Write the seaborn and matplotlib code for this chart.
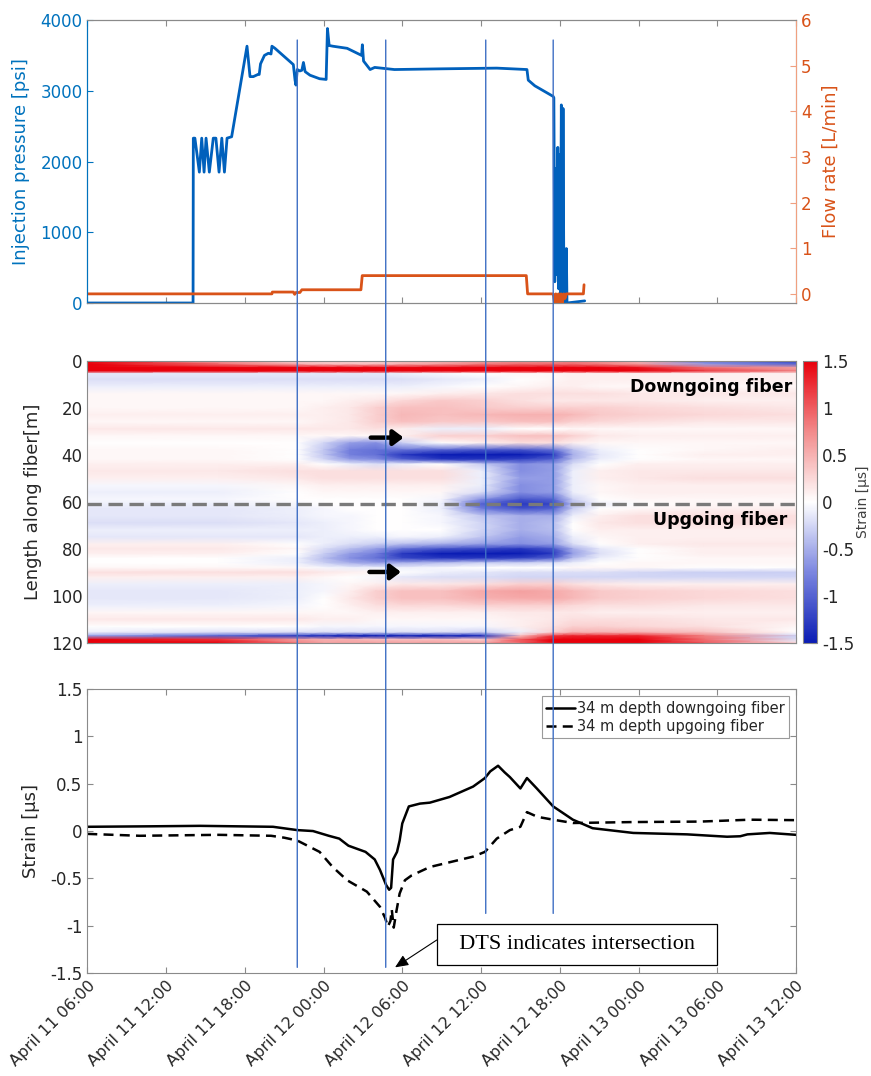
import numpy as np
import pandas as pd
import matplotlib
matplotlib.use("Agg")
import matplotlib.pyplot as plt
import seaborn as sns
from matplotlib.colors import LinearSegmentedColormap
from matplotlib.patches import ConnectionPatch

# time axis: hours after April 11 06:00
tick_hours = [0, 6, 12, 18, 24, 30, 36, 42, 48, 54]
tick_labels = ["April 11 06:00", "April 11 12:00", "April 11 18:00",
               "April 12 00:00", "April 12 06:00", "April 12 12:00",
               "April 12 18:00", "April 13 00:00", "April 13 06:00",
               "April 13 12:00"]

# injection pressure [psi]
press_t = [0, 8.06, 8.08, 8.2, 8.54, 8.72, 8.9, 9.05, 9.3, 9.6, 9.8, 10.04,
           10.25, 10.45, 10.65, 11.0, 12.17, 12.4, 12.65, 13.0, 13.1, 13.2,
           13.5, 13.8, 14.0, 14.07, 14.3, 15.7, 15.83, 15.9, 16.0, 16.2,
           16.35, 16.47, 16.6, 16.97, 17.7, 18.2, 18.3, 18.43, 18.7, 19.8,
           20.9, 20.96, 21.05, 21.55, 21.9, 23.4, 27.0, 31.2, 33.5, 33.6,
           34.1, 35.5, 35.55, 35.62, 35.7, 35.78, 35.85, 35.92, 35.98,
           36.05, 36.12, 36.2, 36.25, 36.32, 36.45, 36.5, 36.55, 37.9]
press_v = [0, 0, 2330, 2330, 1850, 2330, 1850, 2330, 1850, 2330, 2330, 1850,
           2330, 1850, 2330, 2350, 3630, 3200, 3200, 3230, 3230, 3380,
           3500, 3530, 3520, 3630, 3600, 3370, 3150, 3080, 3300, 3280,
           3290, 3400, 3270, 3220, 3170, 3160, 3880, 3640, 3630, 3600,
           3500, 3650, 3420, 3300, 3330, 3300, 3310, 3320, 3300, 3150,
           3070, 2920, 2900, 300, 1900, 400, 2200, 200, 2100,
           100, 2800, 0, 2750, 0, 0, 770, 0, 30]

# flow rate [L/min]
flow_t = [0, 14.07, 14.1, 15.7, 15.8, 15.9, 16.2, 16.35, 20.85, 20.95, 33.45,
          33.55, 35.5, 35.6, 35.7, 35.8, 35.9, 36.0, 36.1, 36.2, 36.3, 36.4,
          36.5, 37.8, 37.85]
flow_v = [0, 0, 0.04, 0.04, -0.01, 0.03, 0.03, 0.09, 0.09, 0.40, 0.40,
          0.0, 0.0, -0.2, 0.0, -0.2, 0.0, -0.2, 0.0, -0.2, 0.0, -0.1,
          0.0, 0.0, 0.2]

# strain at 34 m depth
down_t = [0, 4.78, 8.6, 14.15, 16.0, 17.2, 18.4, 19.2, 19.9, 21.2, 21.9, 22.3,
          22.77, 23.0, 23.15, 23.3, 23.6, 23.8, 24.0, 24.5, 25.35, 26.1, 27.6,
          29.4, 30.3, 30.7, 31.3, 31.8, 32.2, 33.0, 33.5, 34.25, 35.5, 37.0,
          38.5, 41.6, 45.7, 48.75, 49.75, 50.3, 52.0, 54]
down_v = [0.045, 0.05, 0.055, 0.045, 0.01, 0.0, -0.05, -0.08, -0.155, -0.22,
          -0.30, -0.41, -0.57, -0.62, -0.60, -0.30, -0.22, -0.10, 0.08, 0.26,
          0.29, 0.30, 0.36, 0.47, 0.56, 0.63, 0.69, 0.62, 0.57, 0.45, 0.56,
          0.45, 0.26, 0.12, 0.03, -0.02, -0.035, -0.06, -0.055, -0.035,
          -0.02, -0.04]
up_t = [0, 4, 10, 14, 15, 16.0, 17.7, 18.7, 19.8, 21.3, 22.3, 22.7, 22.9, 23.1,
        23.2, 23.35, 23.55, 23.8, 24.2, 24.7, 26.1, 27.9, 29.4, 30.3, 31.2,
        32.2, 33.0, 33.5, 34.3, 35.5, 37.0, 41.6, 46.7, 50.5, 54]
up_v = [-0.03, -0.05, -0.04, -0.05, -0.07, -0.10, -0.22, -0.38, -0.52, -0.64,
        -0.80, -0.92, -1.01, -0.95, -0.83, -1.02, -0.85, -0.66, -0.52, -0.47,
        -0.38, -0.32, -0.27, -0.22, -0.08, 0.01, 0.045, 0.20, 0.15, 0.12,
        0.085, 0.095, 0.10, 0.12, 0.115]

# DSS strain map (depth nodes x time nodes)
time_nodes = [0, 10, 16, 18, 20, 22, 24, 27, 30, 33, 35.5, 37, 39, 42, 47, 54]
depth_nodes = [0, 1.5, 3, 4.5, 5.5, 8, 11, 14, 17, 20, 23, 26, 29, 32, 35, 38,
               40, 42, 44, 47, 50, 53, 56, 59, 61, 63, 66, 69, 72, 75, 78, 80,
               82, 84, 86, 88, 90, 92, 95, 98, 101, 104, 107, 110, 113, 115.5,
               117, 118.5, 120]
strain_map = [
    [1.5, 0.6, 0.3, 0.3, 0.3, 0.3, 0.4, 0.5, 0.6, 0.7, 0.7, 0.8, 0.7, 0.5, -0.9, -1.2],
    [1.5, 0.9, 0.5, 0.4, 0.4, 0.4, 0.5, 0.6, 0.8, 0.9, 0.9, 0.9, 0.8, 0.6, -0.6, -1.0],
    [1.5, 1.5, 1.5, 1.5, 1.5, 1.5, 1.5, 1.5, 1.5, 1.5, 1.5, 1.5, 1.5, 1.4, 0.9, 0.6],
    [1.5, 1.5, 1.5, 1.5, 1.5, 1.5, 1.5, 1.5, 1.5, 1.5, 1.5, 1.5, 1.5, 1.5, 1.2, 0.8],
    [-0.15, -0.15, -0.15, -0.15, -0.15, -0.15, -0.1, -0.05, 0.0, 0.05, 0.05, 0.1, 0.1, 0.1, 0.1, 0.1],
    [-0.2, -0.2, -0.2, -0.2, -0.2, -0.2, -0.2, -0.15, -0.1, 0.0, 0.05, 0.1, 0.1, 0.1, 0.1, 0.1],
    [-0.1, -0.1, -0.1, -0.1, -0.1, -0.1, -0.1, -0.05, 0.0, 0.05, 0.1, 0.1, 0.05, 0.05, 0.05, 0.05],
    [0.05, 0.05, 0.05, 0.05, 0.05, 0.05, 0.05, 0.1, 0.15, 0.2, 0.2, 0.2, 0.2, 0.15, 0.15, 0.15],
    [0.05, 0.05, 0.05, 0.05, 0.1, 0.15, 0.25, 0.35, 0.3, 0.2, 0.15, 0.15, 0.15, 0.15, 0.1, 0.1],
    [0.05, 0.05, 0.05, 0.1, 0.15, 0.3, 0.4, 0.4, 0.35, 0.3, 0.3, 0.3, 0.3, 0.25, 0.2, 0.15],
    [0.1, 0.1, 0.1, 0.1, 0.15, 0.3, 0.45, 0.4, 0.45, 0.5, 0.5, 0.45, 0.35, 0.3, 0.25, 0.2],
    [0.05, 0.05, 0.05, 0.1, 0.15, 0.3, 0.4, 0.35, 0.35, 0.4, 0.4, 0.3, 0.25, 0.2, 0.15, 0.15],
    [0.15, 0.15, 0.15, 0.15, 0.15, 0.2, 0.1, -0.1, -0.1, 0.0, 0.0, 0.05, 0.05, 0.05, 0.05, 0.05],
    [0.05, 0.05, 0.05, 0.05, 0.05, 0.05, 0.1, 0.3, 0.3, 0.4, 0.4, 0.3, 0.15, 0.1, 0.1, 0.1],
    [0.0, 0.0, 0.0, -0.25, -0.6, -0.7, -0.3, 0.0, 0.1, 0.2, 0.2, 0.1, 0.05, 0.05, 0.05, 0.05],
    [0.05, 0.05, 0.0, -0.35, -0.8, -0.9, -0.9, -1.0, -1.1, -1.1, -0.9, -0.4, -0.1, 0.0, 0.05, 0.1],
    [0.05, 0.05, 0.0, -0.35, -0.8, -0.9, -1.3, -1.5, -1.5, -1.5, -1.3, -0.5, -0.15, 0.0, 0.1, 0.1],
    [0.05, 0.05, 0.0, -0.25, -0.6, -0.7, -1.0, -1.3, -1.3, -1.2, -1.0, -0.4, -0.1, 0.0, 0.05, 0.05],
    [0.1, 0.1, 0.1, 0.0, -0.1, -0.2, -0.1, 0.0, -0.3, -0.7, -0.6, -0.2, 0.0, 0.1, 0.1, 0.1],
    [0.15, 0.15, 0.2, 0.2, 0.2, 0.2, 0.2, 0.2, -0.1, -0.7, -0.6, -0.1, 0.1, 0.15, 0.15, 0.15],
    [0.1, 0.1, 0.15, 0.2, 0.2, 0.2, 0.2, 0.2, -0.1, -0.6, -0.6, -0.1, 0.1, 0.15, 0.2, 0.2],
    [-0.05, -0.05, 0.05, 0.1, 0.1, 0.1, 0.1, 0.1, -0.1, -0.7, -0.6, -0.1, 0.05, 0.1, 0.1, 0.1],
    [-0.1, -0.1, 0.0, 0.05, 0.05, 0.05, 0.05, 0.05, -0.2, -0.7, -0.6, -0.1, 0.05, 0.1, 0.1, 0.1],
    [-0.05, -0.05, 0.0, 0.0, 0.0, 0.0, 0.0, -0.05, -0.7, -1.1, -1.0, -0.3, 0.0, 0.05, 0.05, 0.05],
    [-0.1, -0.1, -0.05, 0.0, 0.0, 0.0, 0.0, -0.1, -1.0, -1.3, -1.2, -0.4, -0.1, 0.0, 0.05, 0.05],
    [-0.15, -0.15, -0.1, -0.05, 0.0, 0.0, 0.0, -0.1, -0.8, -1.1, -1.0, -0.3, 0.0, 0.05, 0.1, 0.1],
    [-0.15, -0.15, -0.1, -0.05, -0.05, 0.0, 0.0, -0.05, -0.35, -0.5, -0.5, -0.1, 0.1, 0.2, 0.2, 0.2],
    [-0.2, -0.2, -0.15, -0.1, -0.05, 0.0, 0.0, -0.05, -0.25, -0.5, -0.4, 0.0, 0.15, 0.2, 0.2, 0.2],
    [-0.1, -0.1, -0.1, -0.1, -0.05, 0.0, 0.0, 0.0, -0.25, -0.5, -0.4, 0.0, 0.1, 0.1, 0.1, 0.1],
    [-0.15, -0.15, -0.15, -0.1, -0.1, -0.1, -0.05, -0.1, -0.35, -0.6, -0.5, -0.1, 0.05, 0.1, 0.1, 0.1],
    [0.1, 0.1, 0.0, -0.1, -0.2, -0.3, -0.4, -0.5, -0.6, -0.7, -0.6, -0.2, 0.0, 0.1, 0.15, 0.15],
    [0.15, 0.15, 0.05, -0.2, -0.4, -0.6, -0.9, -1.1, -1.2, -1.3, -1.1, -0.5, -0.15, 0.0, 0.1, 0.1],
    [0.1, 0.1, 0.0, -0.3, -0.6, -0.8, -1.3, -1.5, -1.5, -1.5, -1.3, -0.6, -0.2, 0.0, 0.1, 0.1],
    [0.0, 0.0, -0.1, -0.4, -0.7, -0.9, -1.2, -1.3, -1.3, -1.2, -1.0, -0.4, -0.1, 0.0, 0.05, 0.05],
    [0.0, 0.0, -0.1, -0.3, -0.5, -0.6, -0.5, -0.4, -0.3, -0.3, -0.2, -0.1, 0.0, 0.05, 0.05, 0.05],
    [0.05, 0.05, 0.05, -0.05, -0.1, -0.1, -0.1, -0.05, 0.0, 0.0, 0.0, 0.05, 0.05, 0.05, 0.0, 0.0],
    [0.2, 0.2, 0.2, 0.15, 0.1, 0.05, 0.0, -0.1, -0.15, -0.2, -0.2, -0.2, -0.2, -0.25, -0.3, -0.3],
    [0.1, 0.1, 0.1, 0.05, 0.0, -0.05, -0.15, -0.2, -0.2, -0.25, -0.25, -0.25, -0.25, -0.25, -0.25, -0.25],
    [-0.1, -0.1, -0.1, -0.05, 0.05, 0.1, 0.15, 0.15, 0.2, 0.3, 0.3, 0.2, 0.15, 0.1, 0.1, 0.1],
    [-0.15, -0.15, -0.1, -0.05, 0.1, 0.3, 0.4, 0.4, 0.55, 0.6, 0.55, 0.45, 0.35, 0.3, 0.25, 0.2],
    [-0.15, -0.15, -0.1, 0.0, 0.15, 0.3, 0.4, 0.4, 0.5, 0.55, 0.55, 0.45, 0.35, 0.3, 0.25, 0.2],
    [-0.1, -0.1, -0.05, 0.0, 0.1, 0.2, 0.25, 0.25, 0.3, 0.3, 0.3, 0.25, 0.2, 0.2, 0.15, 0.15],
    [0.05, 0.05, 0.05, 0.05, 0.05, 0.1, 0.1, 0.1, 0.1, 0.15, 0.15, 0.15, 0.1, 0.1, 0.1, 0.1],
    [0.15, 0.15, 0.15, 0.1, 0.1, 0.05, 0.05, 0.05, 0.05, 0.1, 0.15, 0.2, 0.2, 0.2, 0.15, 0.15],
    [0.0, 0.0, 0.0, -0.05, -0.05, -0.05, -0.05, -0.05, -0.05, 0.1, 0.2, 0.3, 0.3, 0.25, 0.2, 0.05],
    [-0.1, -0.2, -0.2, -0.2, -0.2, -0.2, -0.2, -0.2, -0.3, -0.1, 0.3, 0.5, 0.5, 0.5, 0.4, 0.0],
    [-0.6, -1.0, -1.3, -1.4, -1.5, -1.5, -1.5, -1.5, -1.4, 0.4, 1.2, 1.3, 1.3, 1.3, 0.8, -0.3],
    [1.5, 1.2, 0.6, 0.5, 0.5, 0.4, 0.4, 0.4, 0.3, 1.0, 1.5, 1.5, 1.5, 1.5, 0.9, -0.2],
    [1.5, 1.5, 0.8, 0.6, 0.6, 0.6, 0.6, 0.6, 0.6, 1.0, 1.5, 1.5, 1.5, 1.5, 1.0, 0.2],
]

# event markers (vertical lines) and their lower ends on the strain axis
marker_hours = [16.0, 22.74, 30.36, 35.5]
marker_bottom = [-1.44, -1.44, -0.87, -0.87]

press_ticks = [0, 1000, 2000, 3000, 4000]
flow_ticks = [0, 1, 2, 3, 4, 5, 6]
depth_ticks = [0, 20, 40, 60, 80, 100, 120]
strain_ticks = [-1.5, -1, -0.5, 0, 0.5, 1, 1.5]
strain_labels = ["-1.5", "-1", "-0.5", "0", "0.5", "1", "1.5"]

BLUE = "#0072BD"
ORANGE = "#D95319"
GREY = "#8a8a8a"
TXT = "#262626"

sns.set_style("ticks")
plt.rcParams["font.family"] = ["DejaVu Sans"]
plt.rcParams["axes.edgecolor"] = GREY
plt.rcParams["axes.linewidth"] = 0.8

fig = plt.figure(figsize=(8.71, 10.76), dpi=100)
ax1 = fig.add_axes([0.1002, 0.7184, 0.8137, 0.2630])
ax2 = fig.add_axes([0.1002, 0.4024, 0.8137, 0.2624])
cax = fig.add_axes([0.9219, 0.4024, 0.0161, 0.2624])
ax3 = fig.add_axes([0.1002, 0.0957, 0.8137, 0.2639])


def style_axis(ax):
    ax.set_xlim(0, 54)
    ax.set_xticks(tick_hours)
    ax.tick_params(axis="both", direction="in", length=4, width=0.8,
                   color=GREY, labelsize=12, labelcolor=TXT,
                   top=True, right=True)


# ---- top: pressure and flow rate
press_df = pd.DataFrame({"hours": press_t, "psi": press_v})
flow_df = pd.DataFrame({"hours": flow_t, "lpm": flow_v})
sns.lineplot(data=press_df, x="hours", y="psi", ax=ax1, color="#0060BC",
             lw=2.0, estimator=None, sort=False)
style_axis(ax1)
ax1.tick_params(axis="y", right=False, colors=BLUE, labelcolor=BLUE)
ax1.set_ylim(0, 4000)
ax1.set_yticks(press_ticks)
ax1.set_xticklabels([])
ax1.set_xlabel("")
ax1.set_ylabel("Injection pressure [psi]", color=BLUE, fontsize=13)
ax1.yaxis.set_label_coords(-0.081, 0.5)
ax1.spines["left"].set_color(BLUE)

ax1r = ax1.twinx()
sns.lineplot(data=flow_df, x="hours", y="lpm", ax=ax1r, color=ORANGE,
             lw=2.0, estimator=None, sort=False)
ax1r.set_ylim(-0.2, 6)
ax1r.set_yticks(flow_ticks)
ax1r.tick_params(axis="y", direction="in", length=4, width=0.8,
                 colors="#f0a080", labelcolor=ORANGE, labelsize=12)
ax1r.spines["right"].set_color("#f0a080")
ax1r.spines["left"].set_color(BLUE)
ax1r.set_ylabel("Flow rate [L/min]", color=ORANGE, fontsize=13)
ax1r.yaxis.set_label_coords(1.036, 0.5)

# ---- middle: strain map
cmap = LinearSegmentedColormap.from_list(
    "strain", ["#0a1cb4", "#7b86e0", "#ffffff", "#f28a8a", "#e8000b"])
mesh = ax2.pcolormesh(time_nodes, depth_nodes, np.array(strain_map),
                      shading="gouraud", cmap=cmap, vmin=-1.5, vmax=1.5,
                      rasterized=True)
style_axis(ax2)
ax2.set_ylim(120, 0)
ax2.set_yticks(depth_ticks)
ax2.set_xticklabels([])
ax2.set_ylabel("Length along fiber[m]", color=TXT, fontsize=13)
ax2.yaxis.set_label_coords(-0.064, 0.5)
ax2.axhline(61, color="#7a7a7a", lw=2.4, dashes=(4.3, 2.0))
ax2.text(53.7, 11, "Downgoing fiber", ha="right", va="center",
         fontsize=12.5, fontweight="bold", color="black")
ax2.text(53.3, 67.8, "Upgoing fiber", ha="right", va="center",
         fontsize=12.5, fontweight="bold", color="black")
for y0, x0, x1 in [(32.7, 21.6, 24.1), (89.8, 21.5, 23.9)]:
    ax2.annotate("", xy=(x1, y0), xytext=(x0, y0),
                 arrowprops=dict(arrowstyle="-|>,head_length=0.6,head_width=0.45",
                                 lw=3.2, color="black", shrinkA=0, shrinkB=0))

cb = fig.colorbar(mesh, cax=cax, ticks=strain_ticks)
cb.ax.set_yticklabels(strain_labels)
cb.ax.tick_params(direction="in", length=4, width=0.8, color=GREY,
                  labelsize=12, labelcolor=TXT)
cb.outline.set_edgecolor(GREY)
cb.outline.set_linewidth(0.8)
cb.set_label("Strain [μs]", fontsize=10, color="#404040")
cb.ax.yaxis.set_label_coords(3.8, 0.5)

# ---- bottom: strain at 34 m
down_df = pd.DataFrame({"hours": down_t, "strain": down_v})
up_df = pd.DataFrame({"hours": up_t, "strain": up_v})
sns.lineplot(data=down_df, x="hours", y="strain", ax=ax3, color="black",
             lw=1.8, estimator=None, sort=False,
             label="34 m depth downgoing fiber")
sns.lineplot(data=up_df, x="hours", y="strain", ax=ax3, color="black",
             lw=1.8, estimator=None, sort=False,
             label="34 m depth upgoing fiber")
ax3.lines[-1].set_dashes([4, 2.5])
style_axis(ax3)
ax3.set_ylim(-1.5, 1.5)
ax3.set_yticks(strain_ticks)
ax3.set_yticklabels(strain_labels)
ax3.set_xticklabels(tick_labels, rotation=45, ha="right",
                    rotation_mode="anchor", fontsize=11.5)
ax3.set_xlabel("")
ax3.set_ylabel("Strain [μs]", color=TXT, fontsize=13)
ax3.yaxis.set_label_coords(-0.067, 0.5)
leg = ax3.legend(loc="upper right", fontsize=10.5, frameon=True, fancybox=False,
                 edgecolor="#9a9a9a", framealpha=1, handlelength=2.0,
                 handletextpad=0.1, borderpad=0.3, labelspacing=0.2,
                 borderaxespad=0.5)
leg.get_frame().set_linewidth(0.8)

ax3.text(37.3, -1.20, "  DTS indicates intersection  ", ha="center",
         va="center", fontsize=16, family="Liberation Serif", color="black",
         bbox=dict(boxstyle="square,pad=0.5", fc="white", ec="black", lw=0.9))
ax3.annotate("", xy=(23.45, -1.44), xytext=(26.63, -1.151),
             arrowprops=dict(arrowstyle="-|>,head_length=0.8,head_width=0.35",
                             lw=0.8, color="black", shrinkA=0, shrinkB=0))

# event lines across the panels
for t, yb in zip(marker_hours, marker_bottom):
    con = ConnectionPatch(xyA=(t, 3717), coordsA=ax1.transData,
                          xyB=(t, yb), coordsB=ax3.transData,
                          color="#3f6fc4", lw=1.0)
    fig.add_artist(con)

fig.savefig("out.png", dpi=100)
